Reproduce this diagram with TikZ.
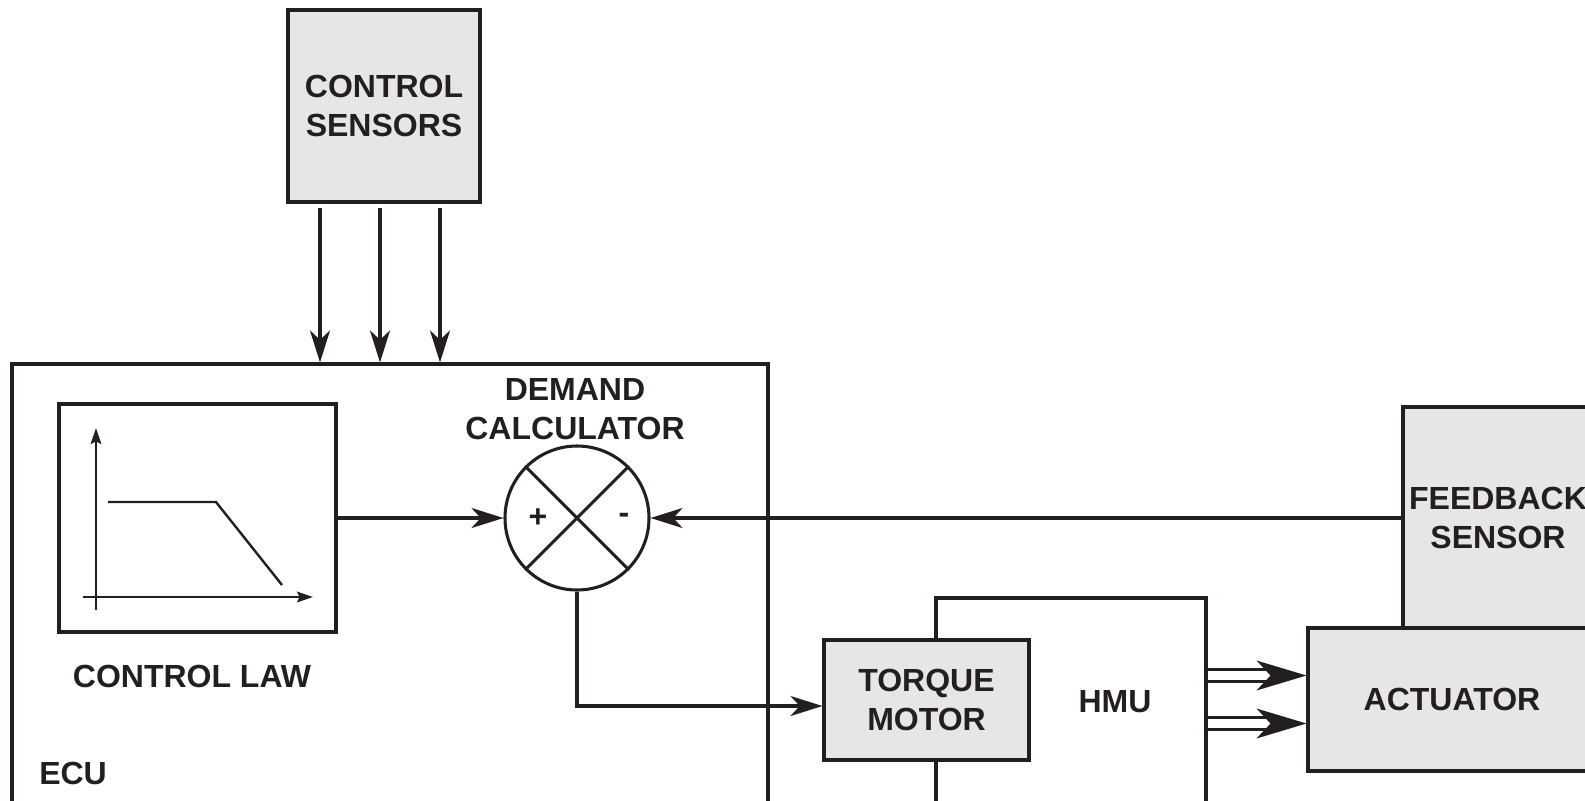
\documentclass[tikz,border=0pt]{standalone}
\usepackage{fontspec}
\setmainfont{Liberation Sans}
\usetikzlibrary{arrows.meta,calc,shapes.geometric}
\definecolor{ink}{RGB}{35,31,32}
\definecolor{boxgray}{RGB}{230,230,230}
\tikzstyle{txt} = [text=ink, align=center, inner sep=0.75pt, font=\bfseries\fontsize{24}{29}\selectfont]
\tikzstyle{block} = [txt, draw=ink, line width=2.3pt, fill=boxgray, inner sep=0pt]
\tikzstyle{frame} = [draw=ink, line width=2.3pt, inner sep=0pt]
\tikzstyle{wire} = [draw=ink, line width=2.3pt]
\tikzstyle{arrow} = [wire, -{Stealth[length=24pt,width=15pt,inset=7pt]}]
\tikzstyle{axis} = [draw=ink, line width=1.8pt, -{Stealth[length=12pt,width=8pt,inset=2pt]}]
\tikzstyle{dbl} = [draw=ink, double=white, line width=2.4pt, double distance=6.5pt]

\begin{document}
\begin{tikzpicture}[x=0.75pt,y=0.75pt,yscale=-1,xscale=1]
\useasboundingbox (0,0) rectangle (1585,800);
\clip (0,0) rectangle (1585,800);

%ECU frame and control law
\node[frame, minimum width=567pt, minimum height=357pt] (ecu) at (390,602) {};
\node[frame, minimum width=207.75pt, minimum height=171pt] (law) at (197.5,518) {};
\draw[axis] (96,610) -- (96,428);
\draw[axis] (83,597) -- (313,597);
\draw[draw=ink, line width=1.8pt] (108,502) -- (216,502) -- (282,585);
\node[txt] (lawlbl) at (192,676) {CONTROL LAW};
\node[txt, anchor=west] (eculbl) at (38,773) {ECU};

%sensors
\node[block, minimum width=144pt, minimum height=144pt] (sens) at (384,106) {CONTROL\\SENSORS};
\foreach \dx [count=\i] in {-64,-4,56} {
  \coordinate (in\i) at ($(sens.south)+(\dx,0)$);
  \draw[arrow, shorten <=3pt] (in\i) -- (in\i |- ecu.north);
}

%demand calculator
\node[circle, draw=ink, line width=2.3pt, fill=white, minimum size=108pt, inner sep=0pt] (dem) at (577,518) {};
\draw[wire] (dem.north west) -- (dem.south east) (dem.north east) -- (dem.south west);
\node[txt] (plus) at ($(dem)+(-39,0)$) {+};
\node[txt] (minus) at ($(dem)+(47,0)$) {-};
\node[txt] (demlbl) at (575,409) {DEMAND\\CALCULATOR};

%HMU side
\node[frame, minimum width=202.5pt, minimum height=181.5pt] (hmu) at (1071,719) {};
\node[txt] (hmulbl) at (1115,702) {HMU};
\node[block, minimum width=153.75pt, minimum height=90pt] (tm) at (926.5,700) {TORQUE\\MOTOR};
\node[block, minimum width=142.5pt, minimum height=166.5pt] (fb) at (1498,518) {FEEDBACK\\SENSOR};
\node[block, minimum width=216pt, minimum height=107.25pt] (act) at (1452,699.5) {ACTUATOR};

%signals
\draw[arrow] (law.east) -- (dem.west);
\draw[arrow] (fb.west) -- (dem.east);
\coordinate (tmin) at ($(tm.west)+(0,6)$);
\draw[arrow] (dem.south) |- (tmin);
\foreach \dy [count=\i] in {-24,24} {
  \coordinate (out\i) at ($(act.west)+(0,\dy)$);
  \draw[dbl, shorten <=0.5pt, shorten >=28.5pt] (hmu.east |- out\i) -- (out\i);
  \fill[ink] (out\i) -- ++(-50,-15) -- ++(14,15) -- ++(-14,15) -- cycle;
}

\end{tikzpicture}
\end{document}
